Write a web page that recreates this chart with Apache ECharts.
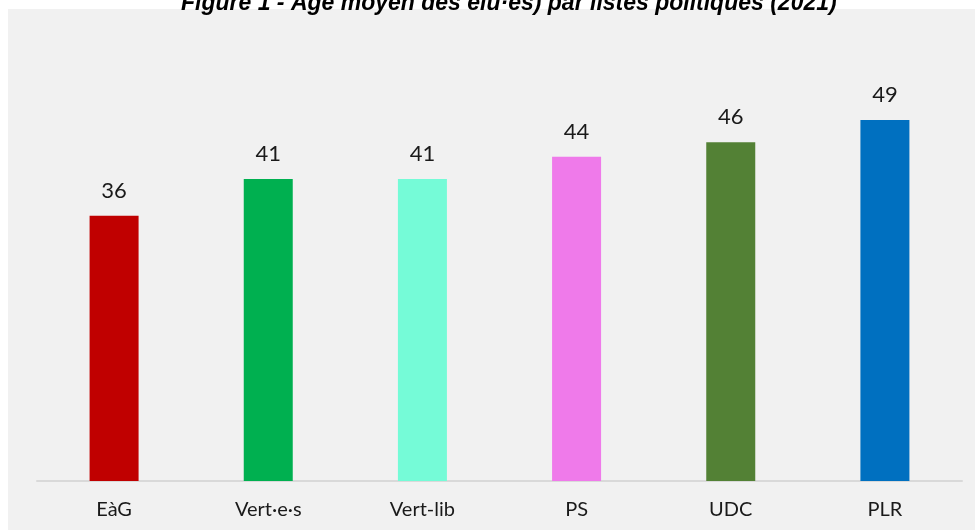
<!DOCTYPE html>
<html>
<head>
<meta charset="utf-8">
<script src="https://cdn.jsdelivr.net/npm/echarts@6/dist/echarts.min.js"></script>
<style>
  html, body { margin: 0; padding: 0; background: #ffffff; }
  #main { width: 975px; height: 530px; }
</style>
</head>
<body>
<div id="main"></div>
<script>
// listes politiques
var categories = ['EàG', 'Vert·e·s', 'Vert-lib', 'PS', 'UDC', 'PLR'];
// âge moyen
var ages = [36, 41, 41, 44, 46, 49];
var colors = ['#c00000', '#00b050', '#75fbd7', '#ef7aea', '#538135', '#0070c0'];

var chart = echarts.init(document.getElementById('main'));

var barData = [];
for (var i = 0; i < ages.length; i++) {
    barData.push({ value: ages[i], itemStyle: { color: colors[i] } });
}

chart.setOption({
    backgroundColor: '#ffffff',
    animation: false,
    graphic: [{
        type: 'rect',
        left: 8, top: 9,
        shape: { width: 967, height: 521 },
        style: { fill: '#f1f1f1' },
        z: -10
    }],
    title: {
        text: 'Figure 1 - Âge moyen des élu·es) par listes politiques (2021)',
        left: 176,
        top: -13,
        textStyle: {
            fontFamily: 'Liberation Sans Narrow, Liberation Sans, sans-serif',
            fontStyle: 'italic',
            fontWeight: 'bold',
            fontSize: 23,
            color: '#000000'
        }
    },
    grid: { left: 37, right: 13, top: 39, bottom: 49 },
    xAxis: {
        type: 'category',
        data: categories,
        axisLine: { lineStyle: { color: '#d9d9d9', width: 2 } },
        axisTick: { show: false },
        axisLabel: {
            color: '#1a1a1a',
            fontFamily: 'Lato, sans-serif',
            fontSize: 20,
            margin: 19
        }
    },
    yAxis: {
        type: 'value',
        min: 0,
        max: 60,
        show: false,
        splitLine: { show: false }
    },
    series: [{
        type: 'bar',
        data: barData,
        barWidth: 49,
        label: {
            show: true,
            position: 'top',
            distance: 14,
            color: '#1a1a1a',
            fontFamily: 'Lato, sans-serif',
            fontSize: 22
        }
    }]
});
</script>
</body>
</html>
